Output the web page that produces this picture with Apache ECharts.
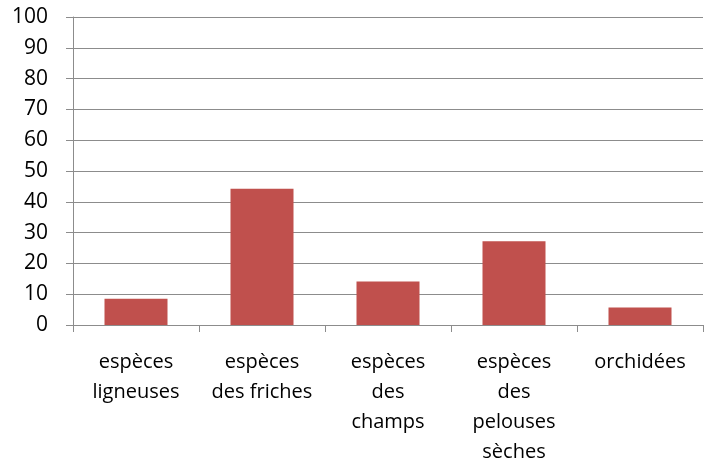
<!DOCTYPE html>
<html><head><meta charset="utf-8">
<script src="https://cdn.jsdelivr.net/npm/echarts@6/dist/echarts.min.js"></script>
<style>html,body{margin:0;padding:0;background:#fff}#c{width:704px;height:467px}</style>
</head><body><div id="c"></div>
<script>
const categories = ["espèces\nligneuses", "espèces\ndes friches", "espèces\ndes\nchamps", "espèces\ndes\npelouses\nsèches", "orchidées"];
const values = [8.5, 44.2, 14.1, 27.2, 5.7];
const yTicks = [0, 10, 20, 30, 40, 50, 60, 70, 80, 90, 100];

const chart = echarts.init(document.getElementById('c'), null, {renderer: 'canvas'});
chart.setOption({
  animation: false,
  grid: {left: 73, right: 1, top: 17, bottom: 142, containLabel: false},
  xAxis: {
    type: 'category', data: categories,
    axisLine: {lineStyle: {color: '#8c8c8c', width: 1}},
    axisTick: {show: true, length: 7, alignWithLabel: false, lineStyle: {color: '#8c8c8c'}},
    axisLabel: {interval: 0, color: '#000', fontSize: 20, fontFamily: 'Open Sans', lineHeight: 30, margin: 22}
  },
  yAxis: {
    type: 'value', min: yTicks[0], max: yTicks[yTicks.length - 1], interval: 10,
    axisLine: {show: true, lineStyle: {color: '#8c8c8c'}},
    axisTick: {show: true, length: 7, lineStyle: {color: '#8c8c8c'}},
    splitLine: {lineStyle: {color: '#8c8c8c', width: 1}},
    axisLabel: {color: '#000', fontSize: 21, fontFamily: 'Open Sans', margin: 25, padding: [4, 0, 0, 0]}
  },
  series: [{
    type: 'bar', data: values, barWidth: '50%',
    itemStyle: {color: '#c0504d'}
  }]
});
</script></body></html>
